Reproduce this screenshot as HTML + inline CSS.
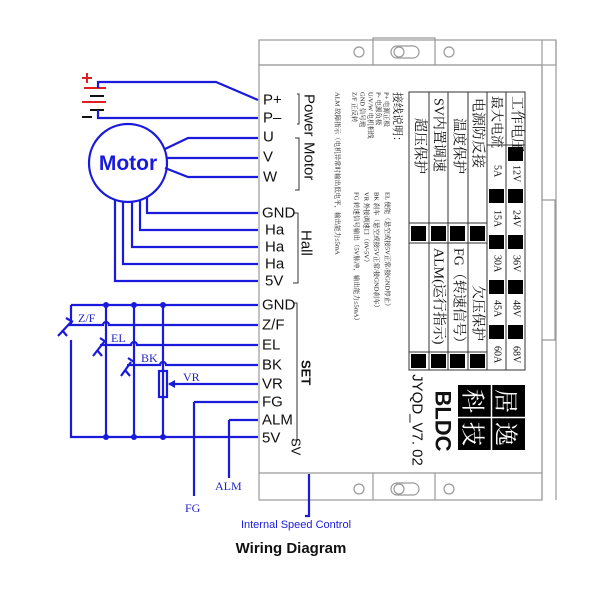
<!DOCTYPE html>
<html><head><meta charset="utf-8"><style>
html,body{margin:0;padding:0;background:#fff;width:600px;height:600px;overflow:hidden}
svg{display:block}
.b{stroke:#1a1adc;stroke-width:2.2;fill:none}
.g{stroke:#999;stroke-width:1.2;fill:none}
.k{stroke:#333;stroke-width:1;fill:none}
.t{font-family:"Liberation Sans",sans-serif;font-size:15px;fill:#111}
.c{font-family:"Liberation Serif","Noto Serif CJK SC",serif;fill:#111}
.bl{font-family:"Liberation Serif",serif;fill:#2323c8;font-size:12px}
</style></head><body>
<svg width="600" height="600" viewBox="0 0 600 600" xmlns="http://www.w3.org/2000/svg">
<!-- housing -->
<rect x="259" y="40" width="297" height="25" class="g"/>
<path d="M373 65 V38 H435 V65" class="g"/>
<circle cx="359" cy="52" r="5" class="g"/>
<circle cx="449" cy="52" r="5" class="g"/>
<rect x="391" y="46" width="28" height="12" rx="6" class="g"/>
<circle cx="399" cy="52" r="5" class="g"/>
<path d="M542 40 V200 H555 V340 H542 V500" class="g"/>
<path d="M556 40 V500" class="g"/>
<rect x="259" y="65" width="283" height="435" class="g"/>
<line x1="259" y1="473" x2="542" y2="473" class="g"/>
<line x1="373" y1="473" x2="373" y2="500" class="g"/>
<line x1="435" y1="473" x2="435" y2="500" class="g"/>
<circle cx="359" cy="489" r="5" class="g"/>
<circle cx="449" cy="489" r="5" class="g"/>
<rect x="391" y="483" width="28" height="12" rx="6" class="g"/>
<circle cx="399" cy="489" r="5" class="g"/>

<!-- table -->
<g class="k" stroke-width="1.3">
<rect x="409" y="92" width="116" height="278"/>
<line x1="429" y1="92" x2="429" y2="370"/><line x1="448" y1="92" x2="448" y2="370"/>
<line x1="468" y1="92" x2="468" y2="370"/><line x1="487" y1="92" x2="487" y2="370"/>
<line x1="506" y1="92" x2="506" y2="370"/>
<line x1="487" y1="145" x2="525" y2="145"/>
<line x1="409" y1="223" x2="487" y2="223"/><line x1="409" y1="243" x2="487" y2="243"/>
<line x1="409" y1="352" x2="487" y2="352"/>
</g>
<g fill="#000">
<rect x="411" y="226" width="15" height="15"/><rect x="431" y="226" width="15" height="15"/>
<rect x="450" y="226" width="15" height="15"/><rect x="470" y="226" width="15" height="15"/>
<rect x="411" y="354" width="15" height="14"/><rect x="431" y="354" width="15" height="14"/>
<rect x="450" y="354" width="15" height="14"/><rect x="470" y="354" width="15" height="14"/>
<rect x="508" y="147" width="15" height="14"/>
<rect x="489" y="189" width="15" height="14"/><rect x="508" y="189" width="15" height="14"/>
<rect x="489" y="235" width="15" height="14"/><rect x="508" y="235" width="15" height="14"/>
<rect x="489" y="280" width="15" height="14"/><rect x="508" y="280" width="15" height="14"/>
<rect x="489" y="325" width="15" height="14"/><rect x="508" y="325" width="15" height="14"/>
</g>
<g class="c" font-size="14" dominant-baseline="central">
<text transform="translate(516,96) rotate(90)">工作电压</text>
<text transform="translate(497,96) rotate(90)" font-size="13">最大电流</text>
<text transform="translate(477,98) rotate(90)">电源防反接</text>
<text transform="translate(458,118) rotate(90)">温度保护</text>
<text transform="translate(438,98) rotate(90)">SV内置调速</text>
<text transform="translate(419,118) rotate(90)">超压保护</text>
<text transform="translate(477,285) rotate(90)">欠压保护</text>
<text transform="translate(458,248) rotate(90)">FG（转速信号）</text>
<text transform="translate(438,248) rotate(90)">ALM(运行指示)</text>
</g>
<g class="c" font-size="10" dominant-baseline="central">
<text transform="translate(516,165) rotate(90)">12V</text><text transform="translate(516,210) rotate(90)">24V</text>
<text transform="translate(516,255) rotate(90)">36V</text><text transform="translate(516,300) rotate(90)">48V</text>
<text transform="translate(516,346) rotate(90)">68V</text>
<text transform="translate(497,165) rotate(90)">5A</text><text transform="translate(497,210) rotate(90)">15A</text>
<text transform="translate(497,255) rotate(90)">30A</text><text transform="translate(497,300) rotate(90)">45A</text>
<text transform="translate(497,346) rotate(90)">60A</text>
</g>
<!-- description -->
<g class="c" font-size="6.5" fill="#333" dominant-baseline="central">
<text transform="translate(397,92) rotate(90)" font-size="11">接线说明：</text>
<text transform="translate(386,92) rotate(90)">P+ 电源正极</text>
<text transform="translate(378,92) rotate(90)">P- 电源负极</text>
<text transform="translate(370,92) rotate(90)">U/V/W 电机相线</text>
<text transform="translate(362,92) rotate(90)">GND 信号地</text>
<text transform="translate(354,92) rotate(90)">Z/F 正反转</text>
<text transform="translate(337,92) rotate(90)">ALM 故障指示（电机异常时输出低电平，输出能力≤5mA</text>
<text transform="translate(387,192) rotate(90)">EL 使能（悬空或接5V正常/接GND停止）</text>
<text transform="translate(376,192) rotate(90)">BK 刹车（悬空或接5V正常/接GND刹车）</text>
<text transform="translate(366,192) rotate(90)">VR 外接调速口（0V-5V）</text>
<text transform="translate(356,192) rotate(90)">FG 转速信号输出（5V脉冲，输出能力≤5mA）</text>
</g>
<!-- logo -->
<rect x="458" y="385" width="67" height="65" fill="#000"/>
<line x1="491.5" y1="385" x2="491.5" y2="450" stroke="#fff" stroke-width="1.5"/>
<line x1="458" y1="417.5" x2="525" y2="417.5" stroke="#fff" stroke-width="1.5"/>
<g font-family="Noto Serif CJK SC,serif" font-size="24" fill="#fff" dominant-baseline="central" text-anchor="middle">
<text transform="translate(508,401) rotate(90)">居</text>
<text transform="translate(508,434) rotate(90)">逸</text>
<text transform="translate(475,401) rotate(90)">科</text>
<text transform="translate(475,434) rotate(90)">技</text>
</g>
<text transform="translate(443,421) rotate(90)" font-family="Liberation Sans,sans-serif" font-size="22" font-weight="bold" fill="#111" dominant-baseline="central" text-anchor="middle">BLDC</text>
<text transform="translate(417,420) rotate(90)" font-family="Liberation Sans,sans-serif" font-size="15" fill="#111" dominant-baseline="central" text-anchor="middle">JYQD_V7. 02</text>

<!-- group labels -->
<g class="k" stroke="#555">
<path d="M297 94 H299 V124 H297"/>
<path d="M295 138 H299 V190 H295"/>
<path d="M293 213 H298 V283 H293"/>
<path d="M293 303 H297 V440 H293"/>
</g>
<g class="t" font-size="14" dominant-baseline="central">
<text transform="translate(309,94) rotate(90)">Power</text>
<text transform="translate(309,142) rotate(90)">Motor</text>
<text transform="translate(306,230) rotate(90)">Hall</text>
<text transform="translate(306,360) rotate(90)" font-weight="bold" font-size="13">SET</text>
<text transform="translate(296,438) rotate(90)" font-size="13">SV</text>
</g>

<!-- terminal labels -->
<g class="t" dominant-baseline="central">
<text x="263" y="100">P+</text><text x="263" y="118">P–</text>
<text x="263" y="137">U</text><text x="263" y="157">V</text><text x="263" y="177">W</text>
<text x="262" y="213">GND</text><text x="265" y="230">Ha</text><text x="265" y="247">Ha</text>
<text x="265" y="264">Ha</text><text x="265" y="281">5V</text>
<text x="262" y="305">GND</text><text x="262" y="325">Z/F</text><text x="262" y="345">EL</text>
<text x="262" y="365">BK</text><text x="262" y="384">VR</text><text x="262" y="402">FG</text>
<text x="262" y="420">ALM</text><text x="262" y="438">5V</text>
</g>

<!-- battery -->
<g stroke-width="2">
<line x1="82" y1="78" x2="92" y2="78" stroke="#e02020"/><line x1="87" y1="73" x2="87" y2="83" stroke="#e02020"/>
<line x1="84" y1="88" x2="106" y2="88" stroke="#e02020"/>
<line x1="90" y1="96" x2="104" y2="96" stroke="#111"/>
<line x1="82" y1="102" x2="106" y2="102" stroke="#e02020"/>
<line x1="90" y1="110" x2="104" y2="110" stroke="#111"/>
<line x1="82" y1="117" x2="92" y2="117" stroke="#111"/>
</g>
<path d="M98 88 V82 H216 L258 100" class="b"/>
<path d="M98 110 V118 H258" class="b"/>
<!-- motor -->
<circle cx="128" cy="163" r="39" class="b"/>
<text x="128" y="170" text-anchor="middle" font-family="Liberation Sans,sans-serif" font-weight="bold" font-size="21" fill="#1a1adc">Motor</text>
<path d="M165 149 L188 138 H258 M167 158 H258 M165 168 L188 177 H258" class="b"/>
<path d="M147 197 V213 H258 M140 200 V230 H258 M132 202 V247 H258 M123 202 V264 H258 M115 200 V281 H258" class="b"/>

<!-- SET wiring -->
<path d="M71 305 H258 M71 305 V326 M71 340 V437 H258" class="b"/>
<path d="M106 305 V437 M134 305 V437 M163 305 V437" class="b"/>
<g fill="#1a1adc"><circle cx="106" cy="305" r="3"/><circle cx="134" cy="305" r="3"/><circle cx="163" cy="305" r="3"/>
<circle cx="106" cy="437" r="3"/><circle cx="134" cy="437" r="3"/><circle cx="163" cy="437" r="3"/></g>
<!-- switches -->
<path d="M68 325 H103 A3 3 0 0 1 109 325 H258" class="b"/>
<path d="M100 345 H131 A3 3 0 0 1 137 345 H258" class="b"/>
<path d="M127 365 H160 A3 3 0 0 1 166 365 H258" class="b"/>
<g class="b" stroke-width="2.2">
<path d="M58 336 L71 322 M62 330 L67 336 M66 318 L73 322"/>
<path d="M93 356 L104 342 M97 350 L102 356 M100 338 L106 342"/>
<path d="M121 376 L131 362 M125 370 L130 376 M128 358 L134 362"/>
</g>
<!-- VR -->
<rect x="159" y="371" width="8" height="26" class="b" fill="#fff"/>
<path d="M169 384 H258" class="b"/>
<path d="M168 384 L175 380 V388 Z" fill="#1a1adc"/>
<path d="M194 402 H258 M194 402 V496 M229 420 H258 M229 420 V478" class="b"/>
<g class="bl" font-size="13">
<text x="78" y="322">Z/F</text><text x="111" y="342">EL</text><text x="141" y="362">BK</text>
<text x="183" y="381">VR</text><text x="215" y="490">ALM</text><text x="185" y="512">FG</text>
</g>
<!-- bottom -->
<path d="M309 474 V516 H305" class="b"/>
<text x="296" y="528" text-anchor="middle" font-family="Liberation Sans,sans-serif" font-size="11" fill="#1a1adc">Internal Speed Control</text>
<text x="291" y="553" text-anchor="middle" font-family="Liberation Sans,sans-serif" font-size="15" font-weight="bold" fill="#111">Wiring  Diagram</text>
</svg>
</body></html>
